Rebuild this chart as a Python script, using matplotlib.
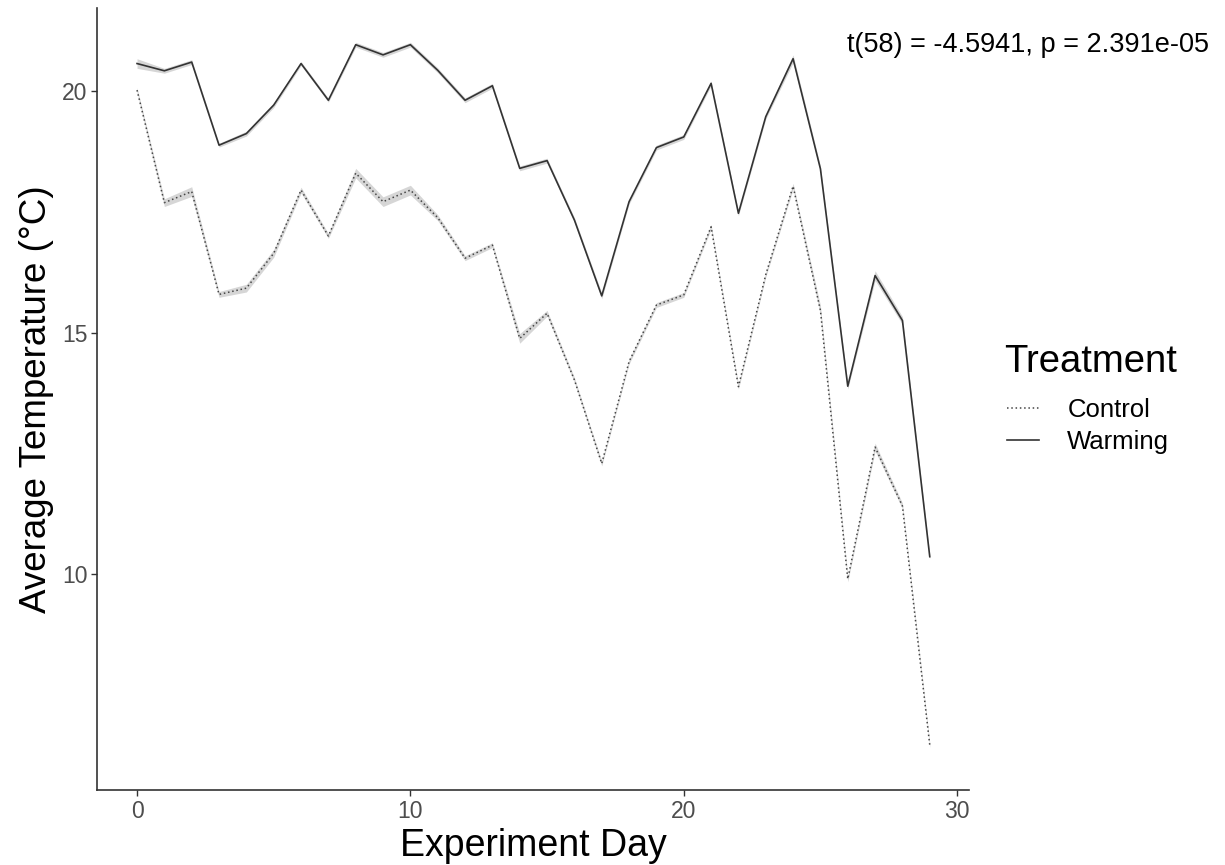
import matplotlib.pyplot as plt
from matplotlib.lines import Line2D

plt.rcParams['font.family'] = ['Liberation Sans', 'DejaVu Sans']

# data
days = list(range(30))
warming = [20.57, 20.42, 20.60, 18.88, 19.12, 19.71, 20.57, 19.81, 20.96, 20.75,
           20.96, 20.43, 19.81, 20.11, 18.40, 18.56, 17.33, 15.76, 17.71, 18.83,
           19.05, 20.16, 17.47, 19.47, 20.67, 18.39, 13.89, 16.18, 15.25, 10.36]
control = [20.02, 17.69, 17.92, 15.79, 15.92, 16.64, 17.95, 17.00, 18.30, 17.71,
           17.95, 17.38, 16.54, 16.81, 14.88, 15.40, 14.02, 12.29, 14.40, 15.57,
           15.78, 17.19, 13.88, 16.20, 18.03, 15.46, 9.90, 12.63, 11.41, 6.46]
# standard error ribbons (very narrow)
se_warming = [0.10, 0.05, 0.05, 0.04, 0.05, 0.05, 0.04, 0.04, 0.05, 0.05,
              0.05, 0.05, 0.05, 0.05, 0.05, 0.05, 0.05, 0.06, 0.05, 0.05,
              0.05, 0.05, 0.05, 0.05, 0.08, 0.06, 0.06, 0.10, 0.08, 0.05]
se_control = [0.05, 0.08, 0.10, 0.06, 0.08, 0.08, 0.06, 0.05, 0.10, 0.10,
              0.10, 0.06, 0.05, 0.05, 0.10, 0.06, 0.05, 0.05, 0.05, 0.05,
              0.05, 0.05, 0.05, 0.05, 0.06, 0.10, 0.06, 0.08, 0.06, 0.05]

fig = plt.figure(figsize=(12.25, 8.65), dpi=100)
ax = fig.add_axes([97.4 / 1225, 1 - 790 / 865, 872 / 1225, 782 / 865])

ax.fill_between(days, [c - s for c, s in zip(control, se_control)],
                [c + s for c, s in zip(control, se_control)], color='0.6', alpha=0.4, lw=0)
ax.fill_between(days, [w - s for w, s in zip(warming, se_warming)],
                [w + s for w, s in zip(warming, se_warming)], color='0.6', alpha=0.4, lw=0)
ax.plot(days, control, color='#444444', lw=1.1, linestyle=(0, (1, 1.8)))
ax.plot(days, warming, color='#333333', lw=1.2)

ax.set_xlim(-1.45, 30.45)
ax.set_ylim(5.53, 21.72)
ax.set_xticks([0, 10, 20, 30])
ax.set_yticks([10, 15, 20])

for side in ['top', 'right']:
    ax.spines[side].set_visible(False)
for side in ['left', 'bottom']:
    ax.spines[side].set_color('#333333')
    ax.spines[side].set_linewidth(1.2)
ax.tick_params(axis='both', length=4, width=1, color='#333333',
               labelsize=16.5, labelcolor='#4d4d4d', pad=3)

ax.set_xlabel('Experiment Day', fontsize=27, labelpad=4)
ax.set_ylabel('Average Temperature (°C)', fontsize=26.5, labelpad=6)

fig.text(847 / 1225, 1 - 45 / 865, 't(58) = -4.5941, p = 2.391e-05',
         fontsize=19.5, ha='left', va='center')

# legend: title drawn separately so the gap under it matches
fig.text(1004 / 1225, 1 - 362 / 865, 'Treatment', fontsize=27.5,
         ha='left', va='center')
handles = [Line2D([], [], color='#444444', lw=1.1, linestyle=(0, (1, 1.8))),
           Line2D([], [], color='#333333', lw=1.2)]
leg = fig.legend(handles, ['Control', 'Warming'],
                 loc='upper left', bbox_to_anchor=(1007 / 1225, 1 - 398 / 865),
                 frameon=False, fontsize=18.5,
                 handlelength=1.25, handletextpad=1.1, labelspacing=0.3,
                 borderpad=0, borderaxespad=0)

plt.savefig('out.png', dpi=100)
